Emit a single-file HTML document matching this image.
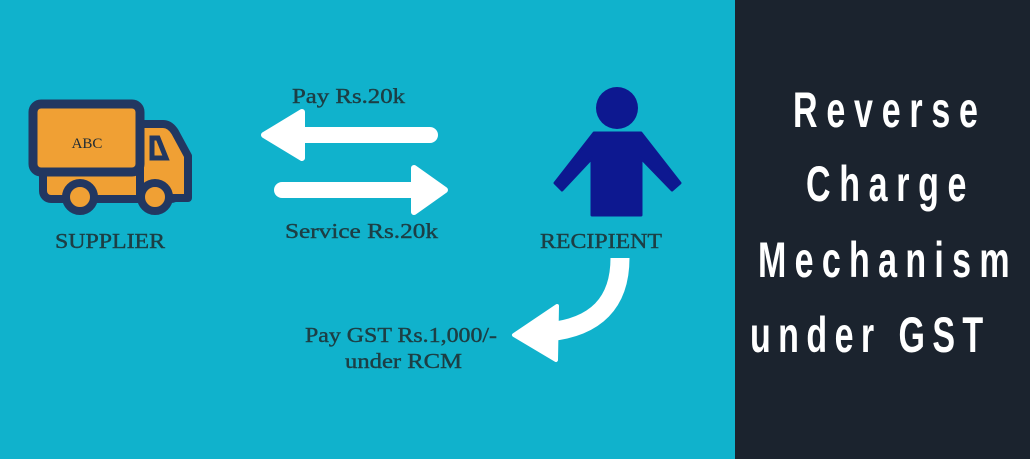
<!DOCTYPE html>
<html><head><style>
body{margin:0}
#c{position:relative;width:1030px;height:459px;background:#10b2cc;overflow:hidden}
#d{position:absolute;left:735px;top:0;width:295px;height:459px;background:#1b232e}
</style></head><body><div id="c">
<div id="d"></div>
<svg width="1030" height="459" style="position:absolute;left:0;top:0">
<g transform="scale(0.68,1)" font-family="Liberation Sans, sans-serif" font-weight="bold" font-size="50" fill="#fff">
<text x="1166.2" y="127" textLength="272" lengthAdjust="spacing">Reverse</text>
<text x="1185.3" y="201" textLength="236" lengthAdjust="spacing">Charge</text>
<text x="1114.7" y="277" textLength="370" lengthAdjust="spacing">Mechanism</text>
<text x="1102.9" y="352" textLength="343" lengthAdjust="spacing">under GST</text>
</g>
<!-- truck -->
<rect x="43" y="137" width="136" height="62" rx="8" fill="#f0a034" stroke="#223761" stroke-width="8"/>
<path d="M140 124 L163 124 Q170 124 175 132 L188 156 L188 198 L140 198 Z" fill="#f0a034" stroke="#223761" stroke-width="8" stroke-linejoin="round"/>
<path d="M152 138 L158 138 L166 158 L152 158 Z" fill="#f0a034" stroke="#223761" stroke-width="5"/>
<rect x="33" y="104" width="107" height="68" rx="8" fill="#f0a034" stroke="#223761" stroke-width="9"/>
<circle cx="80" cy="197" r="14" fill="#f0a034" stroke="#223761" stroke-width="8"/>
<circle cx="155" cy="197" r="14" fill="#f0a034" stroke="#223761" stroke-width="8"/>
<text x="87" y="148" font-size="15" font-family="Liberation Serif, serif" fill="#1d2a35" text-anchor="middle">ABC</text>
<!-- arrows -->
<path d="M430 135 L300 135" stroke="#fff" stroke-width="16" stroke-linecap="round"/>
<path d="M302 112 L264 135 L302 158 Z" fill="#fff" stroke="#fff" stroke-width="6" stroke-linejoin="round"/>
<path d="M282 190 L418 190" stroke="#fff" stroke-width="16" stroke-linecap="round"/>
<path d="M414 168 L445 190 L414 212 Z" fill="#fff" stroke="#fff" stroke-width="6" stroke-linejoin="round"/>
<!-- person -->
<circle cx="617" cy="108" r="21" fill="#0d1890"/>
<path d="M594 133 L641 133 L680 183 L672 190 L641 158 L641 215 L592 215 L592 158 L562 190 L555 183 Z" fill="#0d1890" stroke="#0d1890" stroke-width="3" stroke-linejoin="round"/>
<!-- curved arrow -->
<path d="M620 258 Q620 325 548 332" fill="none" stroke="#fff" stroke-width="19"/>
<path d="M557 306 L514 335 L556 360 Z" fill="#fff" stroke="#fff" stroke-width="4" stroke-linejoin="round"/>
<g font-family="Liberation Serif, serif" font-size="21" fill="#1d3e44" stroke="#1d3e44" stroke-width="0.4">
<text x="55" y="248" textLength="110" lengthAdjust="spacingAndGlyphs">SUPPLIER</text>
<text x="292" y="103" textLength="113" lengthAdjust="spacingAndGlyphs">Pay Rs.20k</text>
<text x="285" y="238" textLength="153" lengthAdjust="spacingAndGlyphs">Service Rs.20k</text>
<text x="540" y="248" textLength="122" lengthAdjust="spacingAndGlyphs">RECIPIENT</text>
<text x="305" y="342" textLength="192" lengthAdjust="spacingAndGlyphs">Pay GST Rs.1,000/-</text>
<text x="345" y="368" textLength="117" lengthAdjust="spacingAndGlyphs">under RCM</text>
</g>
</svg>
</div></body></html>
